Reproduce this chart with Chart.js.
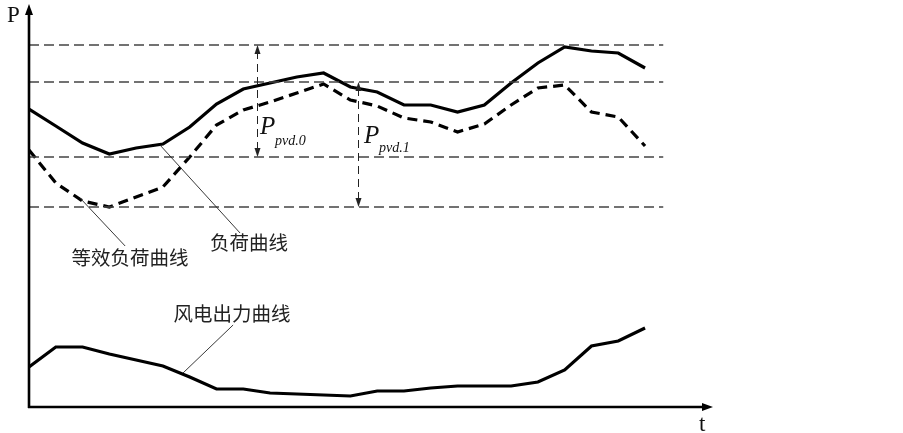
<!DOCTYPE html>
<html><head><meta charset="utf-8">
<script src="https://cdn.jsdelivr.net/npm/chart.js@4/dist/chart.umd.min.js"></script>
<style>html,body{margin:0;padding:0;background:#fff}#wrap{width:903px;height:433px;position:relative}</style>
</head><body><div id="wrap"><canvas id="c"></canvas></div>
<script>
// hours 0..23
const hours = [0,1,2,3,4,5,6,7,8,9,10,11,12,13,14,15,16,17,18,19,20,21,22,23];
const loadCurve = [298,281,264,253,259,263,280,303,318,324,330,334,320,315,302,302,295,302,324,344,360,356,354,339];
const equivLoad = [257,224,206,200,210,220,250,282,297,305,314,323,307,301,289,285,275,283,302,319,322,295,290,261];
const windPower = [40,60,60,53,47,41,30,18,18,14,13,12,11,16,16,19,21,21,21,25,37,61,66,79];
const refLevels = [362,325,250,200];
const refEnd = 23.68;

const toPts = arr => arr.map((v,i)=>({x:hours[i],y:v}));
const datasets = [];
refLevels.forEach(v=>datasets.push({data:[{x:0,y:v},{x:refEnd,y:v}],borderColor:'#444',borderWidth:1.4,borderDash:[10,5],pointRadius:0,tension:0}));
datasets.push({label:'负荷曲线',data:toPts(loadCurve),borderColor:'#000',borderWidth:3.2,pointRadius:0,tension:0});
datasets.push({label:'等效负荷曲线',data:toPts(equivLoad),borderColor:'#000',borderWidth:3.2,borderDash:[10,6],pointRadius:0,tension:0});
datasets.push({label:'风电出力曲线',data:toPts(windPower),borderColor:'#000',borderWidth:3.2,pointRadius:0,tension:0});

const deco = {
  id:'deco',
  afterDraw(chart){
    const ctx = chart.ctx, xs = chart.scales.x, ys = chart.scales.y;
    const X = v=>xs.getPixelForValue(v), Y = v=>ys.getPixelForValue(v);
    ctx.save();
    // axes
    const ox = X(0), oy = Y(0);
    ctx.strokeStyle='#000'; ctx.fillStyle='#000'; ctx.lineWidth=2.6; ctx.setLineDash([]);
    ctx.beginPath(); ctx.moveTo(ox,oy+1); ctx.lineTo(ox,12); ctx.stroke();
    ctx.beginPath(); ctx.moveTo(ox-1,oy); ctx.lineTo(xs.right-6,oy); ctx.stroke();
    ctx.beginPath(); ctx.moveTo(ox,4); ctx.lineTo(ox-4,15); ctx.lineTo(ox+4,15); ctx.closePath(); ctx.fill();
    ctx.beginPath(); ctx.moveTo(xs.right+1,oy); ctx.lineTo(xs.right-10,oy-4); ctx.lineTo(xs.right-10,oy+4); ctx.closePath(); ctx.fill();
    // vertical dimension arrows
    const arrows = [[8.51,362,250],[12.28,325,200]];
    ctx.lineWidth=1; ctx.strokeStyle='#222'; ctx.fillStyle='#222';
    arrows.forEach(([xv,a,b])=>{
      const x = Math.round(X(xv))+0.5, y1=Y(a), y2=Y(b);
      ctx.setLineDash([8,5]);
      ctx.beginPath(); ctx.moveTo(x,y1+6); ctx.lineTo(x,y2-6); ctx.stroke();
      ctx.setLineDash([]);
      ctx.beginPath(); ctx.moveTo(x,y1); ctx.lineTo(x-3,y1+9); ctx.lineTo(x+3,y1+9); ctx.closePath(); ctx.fill();
      ctx.beginPath(); ctx.moveTo(x,y2); ctx.lineTo(x-3,y2-9); ctx.lineTo(x+3,y2-9); ctx.closePath(); ctx.fill();
    });
    // leader lines
    ctx.lineWidth=0.9; ctx.strokeStyle='#222';
    [[1.905,209,3.59,161],[4.89,262,7.88,174],[7.62,82,5.75,34]].forEach(([a,b,c,d])=>{
      ctx.beginPath(); ctx.moveTo(X(a),Y(b)); ctx.lineTo(X(c),Y(d)); ctx.stroke();
    });
    // texts
    ctx.fillStyle='#111'; ctx.textBaseline='alphabetic';
    ctx.font='23px "Liberation Serif", serif'; ctx.textAlign='left';
    ctx.fillText('P',7,22);
    ctx.fillText('t',699,431);
    ctx.font='italic 25px "Liberation Serif", serif';
    ctx.fillText('P',260,134);
    ctx.fillText('P',364,143);
    ctx.font='italic 14px "Liberation Serif", serif';
    ctx.fillText('pvd.0',275,145);
    ctx.fillText('pvd.1',379,152);
    ctx.font='19.5px "Noto Sans CJK SC", sans-serif'; ctx.textAlign='center'; ctx.textBaseline='middle';
    ctx.fillStyle='#222';
    ctx.fillText('等效负荷曲线',130,258);
    ctx.fillText('负荷曲线',249,243);
    ctx.fillText('风电出力曲线',232,314);
    ctx.restore();
  }
};

new Chart(document.getElementById('c'),{
  type:'line',
  data:{datasets},
  options:{
    responsive:true, maintainAspectRatio:false, animation:false,
    layout:{padding:{left:29,top:7,right:191,bottom:26}},
    plugins:{legend:{display:false},tooltip:{enabled:false}},
    scales:{
      x:{type:'linear',min:0,max:25.5,display:false},
      y:{min:0,max:400,display:false}
    },
    elements:{line:{borderCapStyle:'butt',borderJoinStyle:'miter'}}
  },
  plugins:[deco]
});
</script></body></html>
